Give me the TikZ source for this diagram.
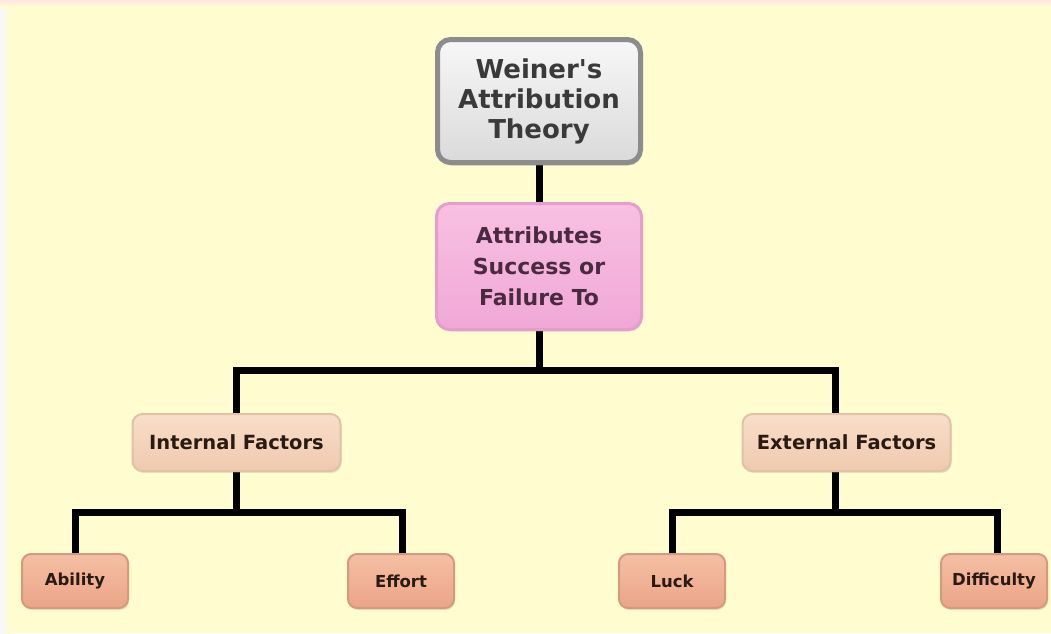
\documentclass[tikz,border=0pt]{standalone}
\usepackage{fontspec}
\setmainfont{DejaVu Sans}
\usetikzlibrary{backgrounds,shadows}
\definecolor{bgyellow}{HTML}{FFFDD0}
\definecolor{topfill1}{HTML}{F7F7F7}
\definecolor{topfill2}{HTML}{DADADA}
\definecolor{topborder}{HTML}{8C8C8C}
\definecolor{toptext}{HTML}{3A3A3A}
\definecolor{pinkfill1}{HTML}{F8C0E2}
\definecolor{pinkfill2}{HTML}{F0A8D6}
\definecolor{pinkborder}{HTML}{E59DCC}
\definecolor{pinktext}{HTML}{4A2A40}
\definecolor{peachfill1}{HTML}{F9DEC9}
\definecolor{peachfill2}{HTML}{EFC9AE}
\definecolor{peachborder}{HTML}{E0C2A6}
\definecolor{salfill1}{HTML}{F5BFA4}
\definecolor{salfill2}{HTML}{EBA487}
\definecolor{salborder}{HTML}{D39A80}
\definecolor{darktext}{HTML}{2A1A12}
\tikzset{
  x=1pt,y=-1pt,
  conn/.style={line width=7pt,black,line cap=butt,line join=miter},
  topbox/.style={rectangle,rounded corners=13pt,line width=5pt,draw=topborder,
    top color=topfill1,bottom color=topfill2,text=toptext,align=center,
    minimum width=203pt,minimum height=123pt,inner sep=0pt,
    font=\fontsize{26}{30}\selectfont\bfseries,
    drop shadow={opacity=0.35,shadow xshift=1pt,shadow yshift=-3pt}},
  pinkbox/.style={rectangle,rounded corners=13pt,line width=3pt,draw=pinkborder,
    top color=pinkfill1,bottom color=pinkfill2,text=pinktext,align=center,
    minimum width=205pt,minimum height=126pt,inner sep=0pt,
    font=\fontsize{22}{31}\selectfont\bfseries,
    drop shadow={opacity=0.2,shadow xshift=1pt,shadow yshift=-2pt}},
  peachbox/.style={rectangle,rounded corners=10pt,line width=2pt,draw=peachborder,
    top color=peachfill1,bottom color=peachfill2,text=darktext,
    minimum width=208pt,minimum height=57pt,inner sep=0pt,
    font=\fontsize{19.5}{22}\selectfont\bfseries,
    drop shadow={opacity=0.2,shadow xshift=1pt,shadow yshift=-2pt}},
  salbox/.style={rectangle,rounded corners=9pt,line width=2pt,draw=salborder,
    top color=salfill1,bottom color=salfill2,text=darktext,
    minimum width=106pt,minimum height=54pt,inner sep=0pt,
    font=\fontsize{16.5}{19}\selectfont\bfseries,
    drop shadow={opacity=0.2,shadow xshift=1pt,shadow yshift=-2pt}}
}
\begin{document}
\begin{tikzpicture}
\useasboundingbox (0,0) rectangle (1051,633);
\begin{scope}[on background layer]
  \fill[bgyellow] (0,0) rectangle (1051,633);
  \fill[left color=white!60!blue!8,right color=bgyellow] (0,0) rectangle (10,633);
  \fill[top color=red!10!white,bottom color=bgyellow] (0,0) rectangle (1051,7);
\end{scope}

\node[topbox] (top) at (539,101) {Weiner\textquotesingle s\\Attribution\\Theory};
\node[pinkbox] (pink) at (539,266.5) {Attributes\\Success or\\Failure To};
\node[peachbox] (int) at (236.5,442.5) {Internal Factors};
\node[peachbox] (ext) at (846.5,442.5) {External Factors};
\node[salbox] (abil) at (75,581) {Ability};
\node[salbox] (eff) at (401,581) {Effort};
\node[salbox] (luck) at (672,581) {Luck};
\node[salbox] (diff) at (994,581) {Difficulty};

\coordinate (hR) at (835,370);
\coordinate (iR) at (402,512);
\coordinate (eR) at (997,512);

\begin{scope}[on background layer]
  \draw[conn] (top.south) -- (pink.north);
  \draw[conn] (pink.south) -- (pink.south |- hR);
  \draw[conn] (int.north) |- (hR) -- (hR |- ext.north);
  \draw[conn] (int.south) -- (int.south |- iR);
  \draw[conn] (abil.north) |- (iR) -- (iR |- eff.north);
  \draw[conn] (hR |- ext.south) -- (hR |- eR);
  \draw[conn] (luck.north) |- (eR) -- (eR |- diff.north);
\end{scope}
\end{tikzpicture}
\end{document}
